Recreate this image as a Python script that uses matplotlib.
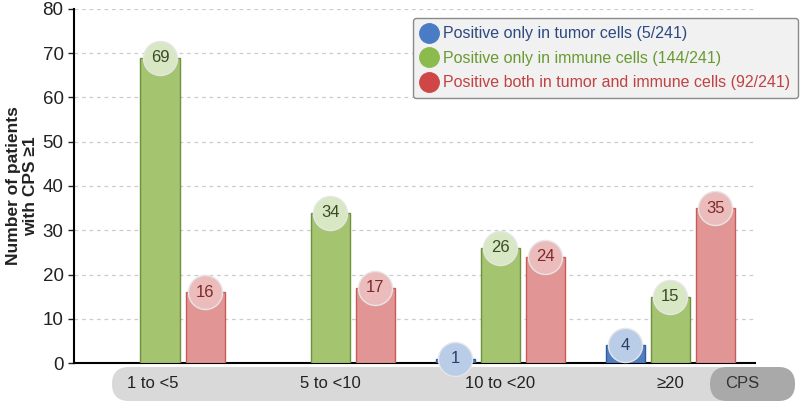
import matplotlib.pyplot as plt
from matplotlib.patches import FancyBboxPatch
from matplotlib.lines import Line2D

plt.rcParams['font.family'] = ['Liberation Sans', 'DejaVu Sans']

# data
categories = ["1 to <5", "5 to <10", "10 to <20", "\u226520"]
tumor_only = [0, 0, 1, 4]
immune_only = [69, 34, 26, 15]
both = [16, 17, 24, 35]

series_names = ["Positive only in tumor cells (5/241)",
                "Positive only in immune cells (144/241)",
                "Positive both in tumor and immune cells (92/241)"]

bar_fill = ["#4f7fc0", "#a4c46f", "#e29595"]
bar_edge = ["#2e5c9c", "#6f9040", "#c85a5a"]
bubble_fill = ["#b9cde8", "#d8e7c4", "#ecbcbc"]
bubble_text = ["#2b3f66", "#3b4a26", "#7e2a2a"]
legend_dot = ["#4a7cc6", "#8bbb4c", "#cf4646"]
legend_text = ["#2c4a82", "#6a9a32", "#c04242"]

fig = plt.figure(figsize=(8, 4.03), dpi=100)

# background layer in pixel units for the category pill
bg = fig.add_axes([0, 0, 1, 1])
bg.set_xlim(0, 800)
bg.set_ylim(403, 0)
bg.axis("off")
bg.add_patch(FancyBboxPatch((112, 367), 683, 34,
                            boxstyle="round,pad=0,rounding_size=17",
                            facecolor="#d9d9d9", edgecolor="none"))
bg.add_patch(FancyBboxPatch((710, 367), 85, 34,
                            boxstyle="round,pad=0,rounding_size=17",
                            facecolor="#a9a9a9", edgecolor="none"))
label_x = [153, 330, 500, 670]
for lx, lab in zip(label_x, categories):
    bg.text(lx, 384, lab, ha="center", va="center", fontsize=12,
            color="#222222")
bg.text(742, 384, "CPS", ha="center", va="center", fontsize=12,
        color="#333333")

ax = fig.add_axes([0.0925, 0.099, 0.8515, 0.879])
ax.patch.set_alpha(0)

width = 0.23
offset = 0.265
x = list(range(len(categories)))

for k, vals in enumerate([tumor_only, immune_only, both]):
    for i, v in enumerate(vals):
        if v == 0:
            continue
        xp = x[i] + (k - 1) * offset
        ax.bar(xp, v, width=width, color=bar_fill[k], edgecolor=bar_edge[k],
               linewidth=1.0, zorder=3)
        ax.scatter([xp], [v], s=600, color=bubble_fill[k], edgecolors="#e6e6e6",
                   linewidths=1.0, zorder=4, clip_on=False)
        ax.text(xp, v, str(v), ha="center", va="center", fontsize=12,
                color=bubble_text[k], zorder=5)

ax.set_xlim(-0.506, 3.5)
ax.set_ylim(0, 80)
ax.set_yticks(range(0, 81, 10))
ax.tick_params(axis="y", labelsize=13.5, colors="#222222", length=4, width=1)
ax.set_xticks([])
ax.yaxis.grid(True, linestyle=(0, (3, 3)), color="#cccccc", linewidth=0.9, zorder=0)
for s in ["top", "right"]:
    ax.spines[s].set_visible(False)
ax.spines["left"].set_linewidth(1.5)
ax.spines["bottom"].set_linewidth(1.5)
ax.set_ylabel("Number of patients\nwith CPS \u22651", fontsize=12.5,
              fontweight="bold", color="#222222", labelpad=3)

handles = [Line2D([0], [0], marker="o", linestyle="none", markersize=14,
                  markerfacecolor=c, markeredgecolor=c) for c in legend_dot]
leg = fig.legend(handles, series_names, loc="upper right",
                 bbox_to_anchor=(0.9975, 0.955), fontsize=11.5, frameon=True,
                 fancybox=True, handletextpad=0.3, borderpad=0.5,
                 labelspacing=0.6, handlelength=1.1, borderaxespad=0)
leg.get_frame().set_facecolor("#f1f1f1")
leg.get_frame().set_edgecolor("#8a8a8a")
leg.get_frame().set_alpha(1)
for t, c in zip(leg.get_texts(), legend_text):
    t.set_color(c)

fig.savefig("out.png", dpi=100)
